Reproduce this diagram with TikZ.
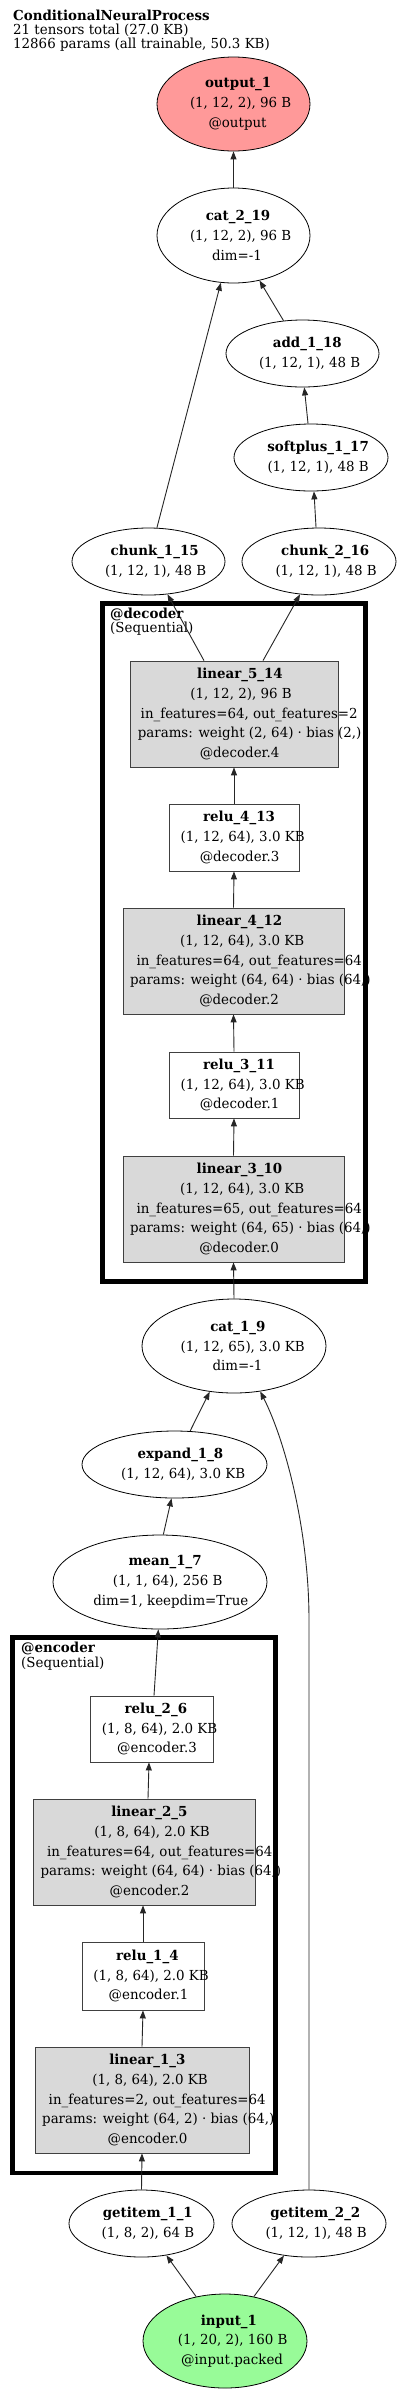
\documentclass[tikz,border=0pt]{standalone}
\usepackage{fontspec}
\setmainfont{DejaVu Serif}[FakeStretch=0.97]
\usetikzlibrary{shapes.geometric,arrows.meta}
\newcommand\gl[1]{\makebox[0.86\width][l]{#1}}
\definecolor{outfill}{RGB}{255,153,153}
\definecolor{infill}{RGB}{152,251,152}
\definecolor{modfill}{RGB}{217,217,217}
\tikzset{
  txt/.style={font=\fontsize{13.8}{19.8}\selectfont, align=center, inner sep=0pt},
  ell/.style={txt, ellipse, draw=black, line width=0.8pt, fill=white},
  modbox/.style={txt, rectangle, draw=black!75, line width=0.8pt, fill=modfill},
  actbox/.style={txt, rectangle, draw=black!75, line width=0.8pt, fill=white},
  cluster/.style={rectangle, draw=black, line width=4.5pt, inner sep=0pt},
  lbl/.style={font=\fontsize{13.8}{14}\selectfont, inner sep=0pt, anchor=base west},
  edge/.style={draw=black!85, line width=0.9pt, -{Triangle[length=8pt,width=6pt]}}
}
\begin{document}
\begin{tikzpicture}[x=1pt,y=-1pt]
\fill[white] (0,0) rectangle (400,2394);
\useasboundingbox (0,0) rectangle (400,2394);

% title
\node[lbl] (t1) at (13,20) {\textbf{ConditionalNeuralProcess}};
\node[lbl] (t2) at (13,34) {21 tensors total (27.0 KB)};
\node[lbl] (t3) at (13,48) {12866 params (all trainable, 50.3 KB)};

% clusters
\node[cluster, minimum width=263, minimum height=678] (decoder) at (234,942.5) {};
\node[lbl] (decl1) at (110,618) {\textbf{@decoder}};
\node[lbl] (decl2) at (110,632.5) {(Sequential)};
\node[cluster, minimum width=263, minimum height=535.5] (encoder) at (144,1905.25) {};
\node[lbl] (encl1) at (21,1652.5) {\textbf{@encoder}};
\node[lbl] (encl2) at (21,1667) {(Sequential)};

% ellipse nodes
\node[ell, fill=outfill, minimum width=153, minimum height=94] (out1) at (233.5,104)
  {\gl{\textbf{output\_1}}\\\gl{(1, 12, 2), 96 B}\\\gl{@output}};
\node[ell, minimum width=153, minimum height=95] (cat219) at (233.5,235.5)
  {\gl{\textbf{cat\_2\_19}}\\\gl{(1, 12, 2), 96 B}\\\gl{dim=-1}};
\node[ell, minimum width=153, minimum height=67] (add118) at (302.5,353.5)
  {\gl{\textbf{add\_1\_18}}\\\gl{(1, 12, 1), 48 B}};
\node[ell, minimum width=154, minimum height=67] (sp117) at (311,457.5)
  {\gl{\textbf{softplus\_1\_17}}\\\gl{(1, 12, 1), 48 B}};
\node[ell, minimum width=153, minimum height=67] (ch115) at (148.5,561.5)
  {\gl{\textbf{chunk\_1\_15}}\\\gl{(1, 12, 1), 48 B}};
\node[ell, minimum width=154, minimum height=67] (ch216) at (319,561.5)
  {\gl{\textbf{chunk\_2\_16}}\\\gl{(1, 12, 1), 48 B}};
\node[ell, minimum width=184, minimum height=94] (cat19) at (234,1346)
  {\gl{\textbf{cat\_1\_9}}\\\gl{(1, 12, 65), 3.0 KB}\\\gl{dim=-1}};
\node[ell, minimum width=185, minimum height=67] (exp18) at (174.5,1464.5)
  {\gl{\textbf{expand\_1\_8}}\\\gl{(1, 12, 64), 3.0 KB}};
\node[ell, minimum width=214, minimum height=94] (mean17) at (160,1582)
  {\gl{\textbf{mean\_1\_7}}\\\gl{(1, 1, 64), 256 B}\\\gl{dim=1, keepdim=True}};
\node[ell, minimum width=145, minimum height=67] (gi11) at (141.5,2223.5)
  {\gl{\textbf{getitem\_1\_1}}\\\gl{(1, 8, 2), 64 B}};
\node[ell, minimum width=154, minimum height=67] (gi22) at (309,2223.5)
  {\gl{\textbf{getitem\_2\_2}}\\\gl{(1, 12, 1), 48 B}};
\node[ell, fill=infill, minimum width=164, minimum height=94] (in1) at (225,2341)
  {\gl{\textbf{input\_1}}\\\gl{(1, 20, 2), 160 B}\\\gl{@input.packed}};

% decoder modules
\node[modbox, minimum width=208, minimum height=106] (l514) at (234,714)
  {\gl{\textbf{linear\_5\_14}}\\\gl{(1, 12, 2), 96 B}\\\gl{in\_features=64, out\_features=2}\\\gl{params: weight (2, 64) · bias (2,)}\\\gl{@decoder.4}};
\node[actbox, minimum width=130, minimum height=67] (r413) at (234,837.5)
  {\gl{\textbf{relu\_4\_13}}\\\gl{(1, 12, 64), 3.0 KB}\\\gl{@decoder.3}};
\node[modbox, minimum width=221, minimum height=106] (l412) at (233.5,961)
  {\gl{\textbf{linear\_4\_12}}\\\gl{(1, 12, 64), 3.0 KB}\\\gl{in\_features=64, out\_features=64}\\\gl{params: weight (64, 64) · bias (64,)}\\\gl{@decoder.2}};
\node[actbox, minimum width=130, minimum height=66] (r311) at (234,1085)
  {\gl{\textbf{relu\_3\_11}}\\\gl{(1, 12, 64), 3.0 KB}\\\gl{@decoder.1}};
\node[modbox, minimum width=221, minimum height=106] (l310) at (233.5,1209)
  {\gl{\textbf{linear\_3\_10}}\\\gl{(1, 12, 64), 3.0 KB}\\\gl{in\_features=65, out\_features=64}\\\gl{params: weight (64, 65) · bias (64,)}\\\gl{@decoder.0}};

% encoder modules
\node[actbox, minimum width=123, minimum height=66] (r26) at (151.5,1729)
  {\gl{\textbf{relu\_2\_6}}\\\gl{(1, 8, 64), 2.0 KB}\\\gl{@encoder.3}};
\node[modbox, minimum width=222, minimum height=106] (l25) at (144,1852)
  {\gl{\textbf{linear\_2\_5}}\\\gl{(1, 8, 64), 2.0 KB}\\\gl{in\_features=64, out\_features=64}\\\gl{params: weight (64, 64) · bias (64,)}\\\gl{@encoder.2}};
\node[actbox, minimum width=122, minimum height=68] (r14) at (143,1976)
  {\gl{\textbf{relu\_1\_4}}\\\gl{(1, 8, 64), 2.0 KB}\\\gl{@encoder.1}};
\node[modbox, minimum width=214, minimum height=106] (l13) at (142,2100)
  {\gl{\textbf{linear\_1\_3}}\\\gl{(1, 8, 64), 2.0 KB}\\\gl{in\_features=2, out\_features=64}\\\gl{params: weight (64, 2) · bias (64,)}\\\gl{@encoder.0}};

% edges
\draw[edge] (cat219.north) -- (out1.south);
\draw[edge] (add118.120) -- (cat219.-60);
\draw[edge] (sp117.95) -- (add118.-87);
\draw[edge] (ch216.95) -- (sp117.-85);
\draw[edge] (ch115.76) -- (cat219.-105);
\draw[edge] ([xshift=-30pt]l514.north) -- (ch115.-60);
\draw[edge] ([xshift=29pt]l514.north) -- (ch216.-120);
\draw[edge] (r413.north) -- (l514.south);
\draw[edge] (l412.north) -- (r413.south);
\draw[edge] (r311.north) -- (l412.south);
\draw[edge] (l310.north) -- (r311.south);
\draw[edge] (cat19.north) -- (l310.south);
\draw[edge] (exp18.65) -- (cat19.-118);
\draw[edge] (mean17.86) -- (exp18.-95);
\coordinate (bend) at (309,1620);
\draw[edge] (gi22.north) -- (bend) .. controls (309,1530) and (285,1440) .. (cat19.-60);
\draw[edge] ([xshift=2.5pt]r26.north) -- (mean17.-92);
\draw[edge] ([xshift=4pt]l25.north) -- ([xshift=-2.5pt]r26.south);
\draw[edge] (r14.north) -- ([xshift=-1pt]l25.south);
\draw[edge] (l13.north) -- (r14.south);
\draw[edge] (gi11.north) -- (l13.south);
\draw[edge] (in1.123) -- (gi11.-52);
\draw[edge] (in1.57) -- (gi22.-128);
\end{tikzpicture}
\end{document}
